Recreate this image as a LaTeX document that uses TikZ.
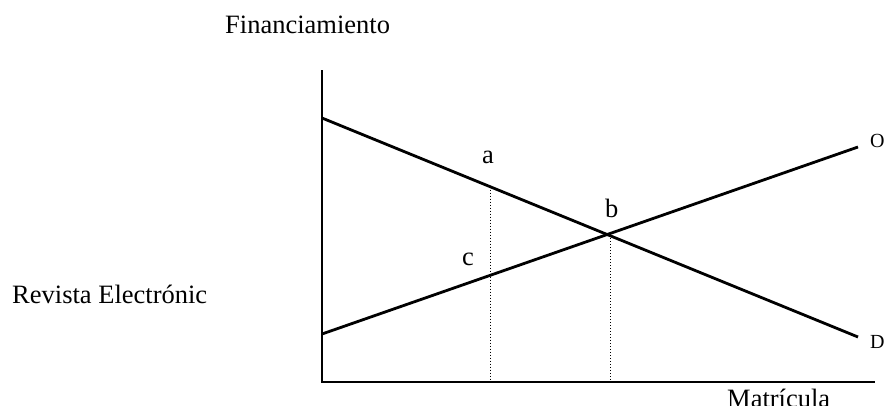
\documentclass[tikz,border=0pt]{standalone}
\usepackage{fontspec}
\setmainfont{Liberation Serif}
\begin{document}
\begin{tikzpicture}[x=1pt,y=-1pt,
  axis/.style={line width=1.8pt},
  curve/.style={line width=2.8pt},
  guide/.style={line width=1pt,dotted},
  lbl/.style={anchor=base west,inner sep=0pt,font=\fontsize{26.5}{30}\selectfont},
  sml/.style={anchor=base west,inner sep=0pt,font=\fontsize{20}{24}\selectfont}]
\useasboundingbox (0,0) rectangle (886,405);
% axes
\coordinate (top) at (322,70);
\coordinate (orig) at (322,382);
\coordinate (xend) at (875,382);
\draw[axis] (top) -- (orig) -- (xend);
% demand and supply
\coordinate (d1) at (322,118);
\coordinate (d2) at (858,337);
\coordinate (o1) at (322,334);
\coordinate (o2) at (858,147);
\draw[curve] (d1) -- (d2);
\draw[curve] (o1) -- (o2);
% guides
\coordinate (pa) at (490,186.6);
\coordinate (pa0) at (490,382);
\coordinate (pb) at (610,235);
\coordinate (pb0) at (610,382);
\draw[guide] (pa) -- (pa0);
\draw[guide] (pb) -- (pb0);
% labels
\node[lbl] (fin) at (225,33) {Financiamiento};
\node[lbl] (rev) at (12,303) {Revista Electrónic};
\node[lbl] (mat) at (727,407) {Matrícula};
\node[lbl] (la) at (482,163) {a};
\node[lbl] (lb) at (605,217) {b};
\node[lbl] (lc) at (462,265) {c};
\node[sml] (lo) at (870,147) {O};
\node[sml] (ld) at (870,348) {D};
\end{tikzpicture}
\end{document}
